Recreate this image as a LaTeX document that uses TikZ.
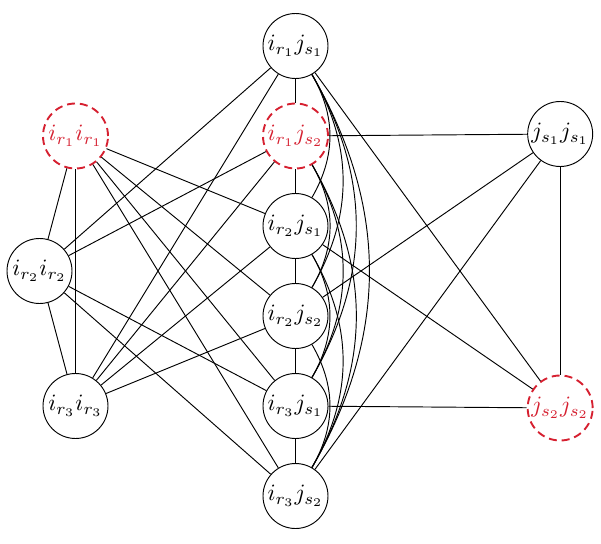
\documentclass[tikz,border=0pt]{standalone}
\usepackage{amsmath}
\usepackage{amssymb}
\usetikzlibrary{positioning}
\definecolor{dred}{RGB}{214,32,48}
\tikzset{vert/.style={draw,circle, minimum size=9.75mm, inner sep=0pt, fill=white}}
\tikzset{gone/.style={vert, draw=dred, text=dred, thick, dash pattern=on 3.4pt off 2.1pt}}

\begin{document}
\begin{tikzpicture}
\useasboundingbox (-4.4325,0.69) rectangle (4.5825,-7.455);
\begin{scope}[on grid]

% middle column
\node[vert] (r1s1) at (0, 0) {$i_{r_1}j_{s_1}$};
\node[gone] (r1s2) [below = 1.35 of r1s1] {$i_{r_1}j_{s_2}$};
\node[vert] (r2s1) [below = 1.35 of r1s2] {$i_{r_2}j_{s_1}$};
\node[vert] (r2s2) [below = 1.35 of r2s1] {$i_{r_2}j_{s_2}$};
\node[vert] (r3s1) [below = 1.35 of r2s2] {$i_{r_3}j_{s_1}$};
\node[vert] (r3s2) [below = 1.35 of r3s1] {$i_{r_3}j_{s_2}$};

% left and right
\node[gone] (r1r1) at (-3.3, -1.35) {$i_{r_1}i_{r_1}$};
\node[vert] (r2r2) at (-3.84, -3.375) {$i_{r_2}i_{r_2}$};
\node[vert] (r3r3) at (-3.3, -5.4) {$i_{r_3}i_{r_3}$};
\node[vert] (s1s1) at (3.97, -1.32) {$j_{s_1}j_{s_1}$};
\node[gone] (s2s2) at (3.97, -5.43) {$j_{s_2}j_{s_2}$};

\draw (r1r1) -- (r2r2);
\draw (r1r1) -- (r3r3);
\draw (r2r2) -- (r3r3);
\draw (s1s1) -- (s2s2);

\draw (r1r1) -- (r2s1);
\draw (r1r1) -- (r2s2);
\draw (r1r1) -- (r3s1);
\draw (r1r1) -- (r3s2);
\draw (r2r2) -- (r1s1);
\draw (r2r2) -- (r1s2);
\draw (r2r2) -- (r3s1);
\draw (r2r2) -- (r3s2);
\draw (r3r3) -- (r1s1);
\draw (r3r3) -- (r1s2);
\draw (r3r3) -- (r2s1);
\draw (r3r3) -- (r2s2);

\draw (s1s1) -- (r1s2);
\draw (s1s1) -- (r2s2);
\draw (s1s1) -- (r3s2);
\draw (s2s2) -- (r1s1);
\draw (s2s2) -- (r2s1);
\draw (s2s2) -- (r3s1);

\draw (r1s1) -- (r1s2);
\draw (r1s2) -- (r2s1);
\draw (r2s1) -- (r2s2);
\draw (r2s2) -- (r3s1);
\draw (r3s1) -- (r3s2);

\draw (r1s1) to[bend left=30] (r2s1);
\draw (r1s1) to[bend left=30] (r2s2);
\draw (r1s1) to[bend left=30] (r3s1);
\draw (r1s1) to[bend left=30] (r3s2);
\draw (r1s2) to[bend left=30] (r2s2);
\draw (r1s2) to[bend left=30] (r3s1);
\draw (r1s2) to[bend left=30] (r3s2);
\draw (r2s1) to[bend left=30] (r3s1);
\draw (r2s1) to[bend left=30] (r3s2);
\draw (r2s2) to[bend left=30] (r3s2);
\end{scope}
\end{tikzpicture}
\end{document}
